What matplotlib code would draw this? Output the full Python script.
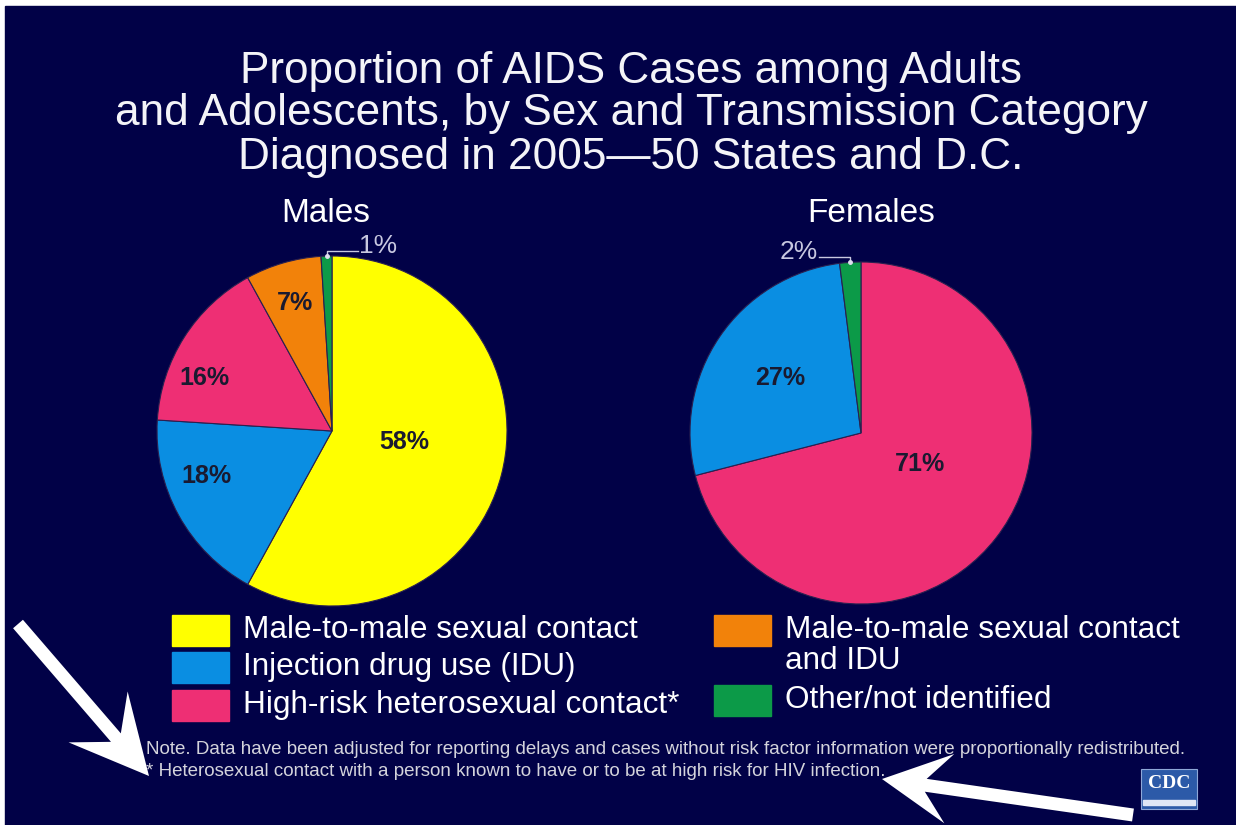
import numpy as np
import matplotlib.pyplot as plt
from matplotlib.patches import Rectangle, FancyArrow

plt.rcParams['font.family'] = ['Liberation Sans', 'DejaVu Sans']

title_lines = ["Proportion of AIDS Cases among Adults",
               "and Adolescents, by Sex and Transmission Category",
               "Diagnosed in 2005\u201450 States and D.C."]

categories = ["Male-to-male sexual contact", "Injection drug use (IDU)",
              "High-risk heterosexual contact*", "Male-to-male sexual contact\nand IDU",
              "Other/not identified"]
colors = ["#ffff00", "#0a8ee2", "#ee2f74", "#f2820a", "#0c9a48"]

male_cats = [0, 1, 2, 3, 4]
male_vals = [58, 18, 16, 7, 1]
female_cats = [2, 1, 4]
female_vals = [71, 27, 2]

notes = ["Note. Data have been adjusted for reporting delays and cases without risk factor information were proportionally redistributed.",
         "* Heterosexual contact with a person known to have or to be at high risk for HIV infection."]

BG = "#010147"
W, H = 1236, 825
fig = plt.figure(figsize=(W / 100, H / 100), dpi=100, facecolor="white")

# background axes in pixel coordinates
bg = fig.add_axes([0, 0, 1, 1])
bg.set_xlim(0, W)
bg.set_ylim(H, 0)
bg.axis("off")
bg.add_patch(Rectangle((5, 6), W, H, color=BG, zorder=0))

for i, line in enumerate(title_lines):
    bg.text(631, 71 + 43 * i, line, color="#f4f4f8", fontsize=31.8, ha="center", va="center")


def draw_pie(cx, cy, r, vals, cats, title, title_x, shifts, dists, small_side):
    ax = fig.add_axes([(cx - r) / W, (H - cy - r) / H, 2 * r / W, 2 * r / H])
    wedges, _ = ax.pie(vals, colors=[colors[c] for c in cats], startangle=90,
                       counterclock=False,
                       wedgeprops=dict(edgecolor="#2a2050", linewidth=0.8))
    ax.set_xlim(-1, 1)
    ax.set_ylim(-1, 1)
    ax.axis("off")
    for w, v, s, d in zip(wedges, vals, shifts, dists):
        mid = np.deg2rad((w.theta1 + w.theta2) / 2 + s)
        if d is None:
            # small slice: leader line out of the top
            x, y = np.cos(mid), np.sin(mid)
            up = 5 / r
            side = 31 / r * small_side
            ax.plot([x, x, x + side], [y, y + up, y + up], color="#c8c8e0", lw=1, clip_on=False)
            ax.plot([x], [y], "o", color="#e0e0f0", ms=2.5, clip_on=False)
            ax.text(x + side + 0.01 * small_side, y + up - 0.01, f"{v}%", color="#c8c8e0",
                    fontsize=19, ha="left" if small_side > 0 else "right", va="baseline")
        else:
            ax.text(d * np.cos(mid), d * np.sin(mid), f"{v}%", color="#1a1a30",
                    fontsize=18, fontweight="bold", ha="center", va="center")
    bg.text(title_x, 214, title, color="white", fontsize=24, ha="center", va="center")


draw_pie(332, 431, 175, male_vals, male_cats, "Males", 326,
         [6, -9, 10, 0, 0], [0.42, 0.76, 0.79, 0.76, None], 1)
draw_pie(861, 433, 171, female_vals, female_cats, "Females", 871,
         [10, 0, 0], [0.39, 0.57, None], -1)

# legend
legend_pos = [(172, 630), (172, 667), (172, 705), (714, 630), (714, 700)]
for (lx, ly), name, col in zip(legend_pos, categories, colors):
    bg.add_patch(Rectangle((lx, ly - 15), 57, 31, color=col))
    for k, part in enumerate(name.split("\n")):
        bg.text(lx + 71, ly + 31 * k, part, color="white", fontsize=22.7,
                ha="left", va="center")

# notes
for k, note in enumerate(notes):
    bg.text(146, 749 + 22 * k, note, color="#d4d4dc", fontsize=13.5, ha="left", va="center")

# white pointer arrows
bg.add_patch(FancyArrow(18, 624, 131, 152, width=13, head_width=78, head_length=78,
                        overhang=0.35, length_includes_head=True, color="white", lw=0))
bg.add_patch(FancyArrow(1133, 815, -251, -36, width=13, head_width=70, head_length=68,
                        overhang=0.35, length_includes_head=True, color="white", lw=0))

# CDC logo
bg.add_patch(Rectangle((1141, 769), 56, 40, color="#2c5aa8", ec="#8fa8d8", lw=0.8))
bg.text(1169, 783, "CDC", color="white", fontsize=14, ha="center", va="center",
        family=["Liberation Serif"], fontweight="bold")
bg.add_patch(Rectangle((1143, 800), 52, 5, color="#dfe6f5"))

fig.savefig("out.png", dpi=100, facecolor=fig.get_facecolor())
